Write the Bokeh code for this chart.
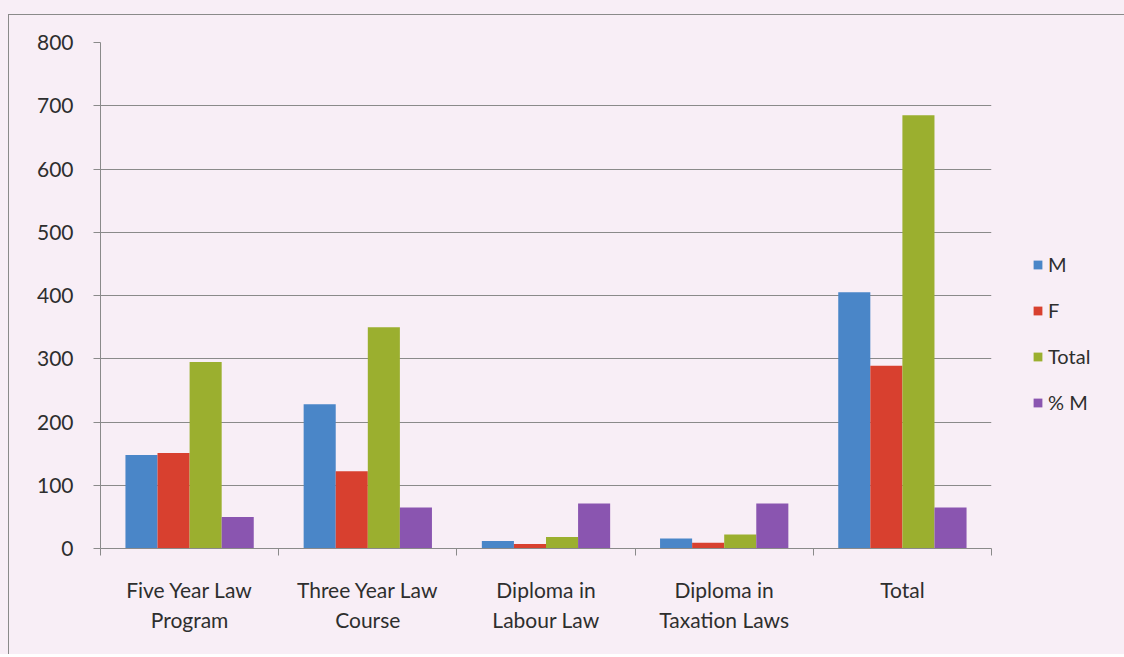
from bokeh.plotting import figure
from bokeh.layouts import column
from bokeh.models import (ColumnDataSource, Range1d, FixedTicker, LinearAxis,
                          Legend, LegendItem, Grid)
from bokeh.transform import dodge
from bokeh.embed import file_html
from bokeh.resources import INLINE

# ---- data ----
categories = ["Five Year Law\nProgram", "Three Year Law\nCourse",
              "Diploma in\nLabour Law", "Diploma in\nTaxation Laws", "Total"]
m_vals = [148, 228, 12, 16, 405]
f_vals = [151, 122, 7, 9, 289]
total_vals = [295, 350, 18, 22, 685]
pct_m_vals = [50, 65, 71, 71, 65]
series_names = ["M", "F", "Total", "% M"]
y_ticks = [0, 100, 200, 300, 400, 500, 600, 700, 800]

# ---- style ----
BG = "#F8EEF6"
TXT = "#2e2e2e"
FONT = "Lato"
colors = ["#4A86C8", "#D8402F", "#9BAF2F", "#8A55B0"]

centers = [i + 0.5 for i in range(len(categories))]
src = ColumnDataSource(dict(x=centers, m=m_vals, f=f_vals, t=total_vals, p=pct_m_vals))

p = figure(frame_width=890, frame_height=505,
           x_range=Range1d(0, len(categories)), y_range=Range1d(0, 800),
           output_backend="svg", toolbar_location=None,
           min_border_left=91, min_border_right=132,
           min_border_top=27, min_border_bottom=107,
           background_fill_color=BG, border_fill_color=BG,
           x_axis_type=None, y_axis_type=None)
p.margin = (14, 0, 0, 8)
p.styles = {"border-left": "1px solid #8a8a8a", "border-top": "1px solid #8a8a8a"}
p.outline_line_color = None

bw = 0.18
offs = [-0.27, -0.09, 0.09, 0.27]
fields = ["m", "f", "t", "p"]
rends = []
for fld, off, c in zip(fields, offs, colors):
    r = p.vbar(x=dodge("x", off, range=p.x_range), top=fld, width=bw, bottom=0,
               source=src, fill_color=c, line_color=None)
    rends.append(r)

# y axis
yax = LinearAxis(ticker=FixedTicker(ticks=y_ticks, minor_ticks=[]))
yax.axis_line_color = "#8a8a8a"
yax.major_tick_line_color = "#8a8a8a"
yax.major_tick_out = 7
yax.major_tick_in = 0
yax.major_label_standoff = 20
yax.major_label_text_font = FONT
yax.major_label_text_font_size = "21px"
yax.major_label_text_color = TXT
p.add_layout(yax, "left")

# x axis: major ticks at centers (labels only), minor ticks at boundaries
xax = LinearAxis(ticker=FixedTicker(ticks=centers,
                                    minor_ticks=list(range(len(categories) + 1))))
xax.major_label_overrides = {c: lab for c, lab in zip(centers, categories)}
xax.axis_line_color = "#8a8a8a"
xax.major_tick_line_color = None
xax.major_tick_out = 0
xax.major_tick_in = 0
xax.minor_tick_line_color = "#8a8a8a"
xax.minor_tick_out = 7
xax.minor_tick_in = 0
xax.major_label_standoff = 21
xax.major_label_text_font = FONT
xax.major_label_text_font_size = "21px"
xax.major_label_text_color = TXT
xax.major_label_text_line_height = 1.2
p.add_layout(xax, "below")

g = Grid(dimension=1, ticker=FixedTicker(ticks=y_ticks))
g.grid_line_color = "#8a8a8a"
g.grid_line_width = 1
p.add_layout(g)

legend = Legend(items=[LegendItem(label=n, renderers=[r]) for n, r in zip(series_names, rends)],
                location=(41, 134))
legend.background_fill_alpha = 0
legend.border_line_color = None
legend.padding = 0
legend.margin = 0
legend.glyph_width = 11
legend.glyph_height = 11
legend.label_height = 24
legend.spacing = 22
legend.label_standoff = 5
legend.label_text_font = FONT
legend.label_text_font_size = "20px"
legend.label_text_color = TXT
p.add_layout(legend, "right")

page = column(p, styles={"background-color": BG})
open("out.html", "w").write(file_html(page, INLINE))
